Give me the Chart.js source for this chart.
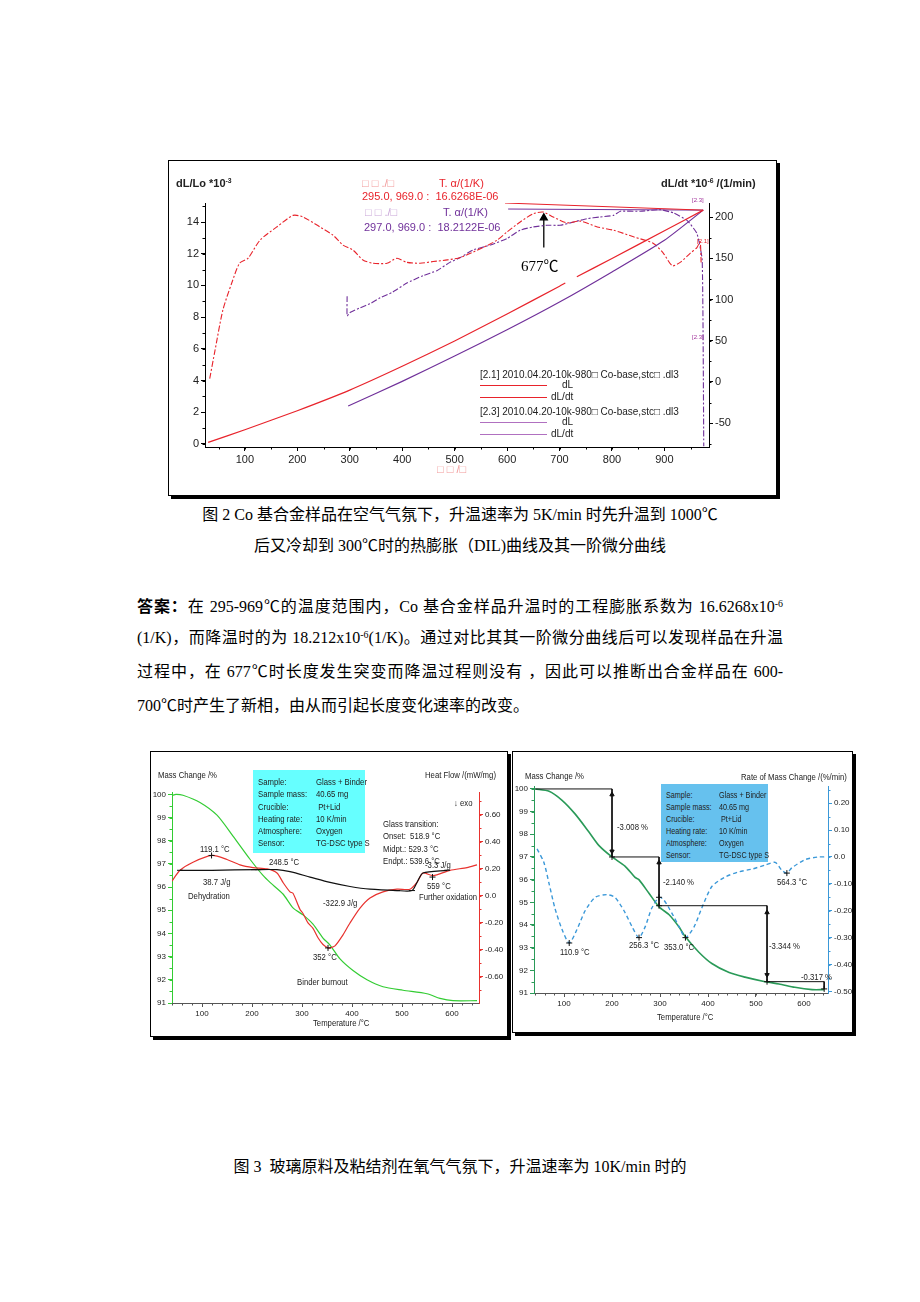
<!DOCTYPE html>
<html lang="zh">
<head>
<meta charset="utf-8">
<title>DIL and TG-DSC curves</title>
<script src="https://cdn.jsdelivr.net/npm/chart.js@4.4.1/dist/chart.umd.min.js"></script>
<style>
  body { margin: 0; width: 920px; height: 1302px; background: #fff; position: relative; overflow: hidden; }
  .a { position: absolute; white-space: nowrap; line-height: 1; }
  .frame { position: absolute; box-sizing: border-box; border: 1px solid #000; box-shadow: 3px 3px 0 #000; background: #fff; }
  canvas { position: absolute; }
  .doc { font-family: 'Liberation Serif', 'Noto Sans CJK SC', serif; font-size: 16px; color: #000; }
  .line { position: absolute; left: 137px; width: 646px; line-height: 1; text-align: justify; text-align-last: justify; }
  .dil { font-family: 'Liberation Sans', Arial, sans-serif; font-size: 11px; }
  .ta { font-family: 'Liberation Sans', Arial, sans-serif; font-size: 9px; color: #222; transform: scaleX(0.86); transform-origin: 0 0; }
  .ta.tight { transform: scaleX(0.8); }
  .hr { position: absolute; height: 0; }
  sup { font-size: 0.62em; vertical-align: 0.55em; line-height: 0; }
</style>
</head>
<body>

<!-- frames -->
<div class="frame" style="left:168px;top:160px;width:609px;height:336px"></div>
<div class="frame" style="left:150px;top:751px;width:358px;height:286px"></div>
<div class="frame" style="left:512px;top:751px;width:341px;height:282px"></div>

<canvas id="dil" width="605" height="332" style="left:170px;top:162px"></canvas>
<canvas id="dsc" width="352" height="280" style="left:153px;top:754px"></canvas>
<canvas id="dtg" width="337" height="276" style="left:515px;top:754px"></canvas>

<!-- Fig. 2 texts -->
<div class="a dil" style="left:176px;top:178px;font-weight:bold;color:#222">dL/Lo *10<sup>-3</sup></div>
<div class="a dil" style="left:661px;top:178px;font-weight:bold;color:#222">dL/dt *10<sup>-6</sup> /(1/min)</div>
<div class="a dil" style="left:362px;top:178px;color:#f29a9a">□ □ ./□</div>
<div class="a dil" style="left:439px;top:178px;color:#e8232b">T. α/(1/K)</div>
<div class="a dil" style="left:362px;top:191px;color:#e8232b">295.0, 969.0 :&nbsp; 16.6268E-06</div>
<div class="a dil" style="left:365px;top:207px;color:#c9a6d8">□ □ ./□</div>
<div class="a dil" style="left:443px;top:207px;color:#70309a">T. α/(1/K)</div>
<div class="a dil" style="left:364px;top:222px;color:#70309a">297.0, 969.0 :&nbsp; 18.2122E-06</div>
<div class="a doc" style="left:521px;top:259px;font-size:15px">677℃</div>
<div class="a dil" style="left:692px;top:197px;font-size:6px;color:#a0309a">[2.3]</div>
<div class="a dil" style="left:697px;top:238px;font-size:6px;color:#e8232b">[2.1]</div>
<div class="a dil" style="left:692px;top:334px;font-size:6px;color:#a0309a">[2.3]</div>
<div class="a dil" style="left:437px;top:464px;color:#f29a9a">□ □ /□</div>

<div class="a dil" style="left:480px;top:370px;font-size:10px;color:#222">[2.1] 2010.04.20-10k-980□ Co-base,stc□ .dl3</div>
<div class="hr" style="left:480px;top:385px;width:67px;border-top:1px solid #e8232b"></div>
<div class="a dil" style="left:562px;top:380px;font-size:10px;color:#222">dL</div>
<div class="hr" style="left:480px;top:397px;width:67px;border-top:1px solid #e8232b"></div>
<div class="a dil" style="left:551px;top:392px;font-size:10px;color:#222">dL/dt</div>
<div class="a dil" style="left:480px;top:407px;font-size:10px;color:#222">[2.3] 2010.04.20-10k-980□ Co-base,stc□ .dl3</div>
<div class="hr" style="left:480px;top:422px;width:67px;border-top:1px solid #b070c0"></div>
<div class="a dil" style="left:562px;top:417px;font-size:10px;color:#222">dL</div>
<div class="hr" style="left:480px;top:434px;width:67px;border-top:1px solid #b070c0"></div>
<div class="a dil" style="left:551px;top:429px;font-size:10px;color:#222">dL/dt</div>

<!-- document text -->
<div class="a doc" style="left:0;width:920px;text-align:center;top:507px">图 2 Co 基合金样品在空气气氛下，升温速率为 5K/min 时先升温到 1000℃</div>
<div class="a doc" style="left:0;width:920px;text-align:center;top:538px">后又冷却到 300℃时的热膨胀（DIL)曲线及其一阶微分曲线</div>

<div class="line doc" style="top:597px"><b style="font-family:'Noto Sans CJK SC'">答案：</b>在 295-969℃的温度范围内，Co 基合金样品升温时的工程膨胀系数为 16.6268x10<sup>-6</sup></div>
<div class="line doc" style="top:630px">(1/K)，而降温时的为 18.212x10<sup>-6</sup>(1/K)。通过对比其其一阶微分曲线后可以发现样品在升温</div>
<div class="line doc" style="top:664px">过程中，在 677℃时长度发生突变而降温过程则没有 ，因此可以推断出合金样品在 600-</div>
<div class="a doc" style="left:137px;top:698px">700℃时产生了新相，由从而引起长度变化速率的改变。</div>

<div class="a doc" style="left:0;width:920px;text-align:center;top:1159px">图 3&nbsp; 玻璃原料及粘结剂在氧气气氛下，升温速率为 10K/min 时的</div>

<!-- Fig. 3 left texts -->
<div class="a ta" style="left:158px;top:771px">Mass Change /%</div>
<div class="a ta" style="left:425px;top:771px">Heat Flow /(mW/mg)</div>
<div class="a ta" style="left:454px;top:799px">↓ exo</div>
<div style="position:absolute;left:253px;top:770px;width:112px;height:83px;background:#66ffff"></div>
<div class="a ta" style="left:258px;top:776px;line-height:12.3px">Sample:<br>Sample mass:<br>Crucible:<br>Heating rate:<br>Atmosphere:<br>Sensor:</div>
<div class="a ta" style="left:316px;top:776px;line-height:12.3px">Glass + Binder<br>40.65 mg<br>&nbsp;Pt+Lid<br>10 K/min<br>Oxygen<br>TG-DSC type S</div>
<div class="a ta" style="left:383px;top:818px;line-height:12.3px">Glass transition:<br>Onset:&nbsp; 518.9 °C<br>Midpt.: 529.3 °C<br>Endpt.: 539.6 °C</div>
<div class="a ta" style="left:425px;top:861px">-3.3 J/g</div>
<div class="a ta" style="left:200px;top:845px">119.1 °C</div>
<div class="a ta" style="left:269px;top:858px">248.5 °C</div>
<div class="a ta" style="left:203px;top:878px">38.7 J/g</div>
<div class="a ta" style="left:427px;top:882px">559 °C</div>
<div class="a ta" style="left:188px;top:892px">Dehydration</div>
<div class="a ta" style="left:419px;top:893px">Further oxidation</div>
<div class="a ta" style="left:323px;top:899px">-322.9 J/g</div>
<div class="a ta" style="left:313px;top:953px">352 °C</div>
<div class="a ta" style="left:297px;top:978px">Binder burnout</div>
<div class="a ta" style="left:313px;top:1019px">Temperature /°C</div>

<!-- Fig. 3 right texts -->
<div class="a ta" style="left:525px;top:772px">Mass Change /%</div>
<div class="a ta" style="left:741px;top:773px">Rate of Mass Change /(%/min)</div>
<div style="position:absolute;left:661px;top:784px;width:107px;height:78px;background:#66c1ee"></div>
<div class="a ta tight" style="left:666px;top:789px;line-height:12px">Sample:<br>Sample mass:<br>Crucible:<br>Heating rate:<br>Atmosphere:<br>Sensor:</div>
<div class="a ta tight" style="left:719px;top:789px;line-height:12px">Glass + Binder<br>40.65 mg<br>&nbsp;Pt+Lid<br>10 K/min<br>Oxygen<br>TG-DSC type S</div>
<div class="a ta" style="left:617px;top:823px">-3.008 %</div>
<div class="a ta" style="left:663px;top:878px">-2.140 %</div>
<div class="a ta" style="left:777px;top:878px">564.3 °C</div>
<div class="a ta" style="left:560px;top:948px">110.9 °C</div>
<div class="a ta" style="left:629px;top:941px">256.3 °C</div>
<div class="a ta" style="left:664px;top:943px">353.0 °C</div>
<div class="a ta" style="left:769px;top:942px">-3.344 %</div>
<div class="a ta" style="left:801px;top:973px">-0.317 %</div>
<div class="a ta" style="left:657px;top:1013px">Temperature /°C</div>

<script>
// ---------- Fig. 2: DIL, temperature in °C ----------
const dilXTicks = [100, 200, 300, 400, 500, 600, 700, 800, 900];
const dilLTicks = [0, 2, 4, 6, 8, 10, 12, 14];
const dilRTicks = [-50, 0, 50, 100, 150, 200];

// dL/Lo (*1e-3), heating run [2.1] and cooling run [2.3]
const heatT = [30, 100, 200, 300, 400, 500, 600, 700, 711, 722, 733, 800, 900, 974];
const heatDL = [0.1, 0.9, 2.1, 3.4, 4.9, 6.5, 8.2, 9.95, 10.15, null, 10.55, 11.7, 13.45, 14.75];
const coolT = [297, 400, 500, 600, 700, 800, 900, 974];
const coolDL = [2.4, 3.95, 5.55, 7.2, 8.95, 10.85, 12.85, 14.75];

// dL/dt (*1e-6 /min)
const heatRateT = [33, 43, 58, 75, 90, 106, 129, 161, 192, 211, 243, 268, 287, 306, 325, 344, 371, 390, 409, 434, 459, 486, 511, 554, 581, 600, 625, 650, 669, 688, 714, 740, 772, 803, 841, 879, 898, 915, 930, 949, 962, 968, 970];
const heatRate = [4, 38, 87, 120, 144, 150, 172, 188, 202, 200, 188, 178, 166, 160, 148, 144, 144, 150, 145, 144, 146, 148, 151, 163, 172, 182, 194, 204, 206, 200, 193, 195, 188, 184, 176, 168, 156, 141, 145, 156, 163, 170, 145];
const coolRateT = [295, 295, 300, 320, 339, 358, 382, 409, 440, 466, 491, 511, 535, 568, 600, 625, 650, 676, 701, 727, 752, 777, 803, 816, 854, 892, 917, 943, 962, 972, 975];
const coolRate = [104, 80, 84, 90, 95, 102, 109, 120, 129, 135, 145, 151, 160, 166, 174, 184, 188, 190, 190, 194, 198, 200, 202, 207, 207, 209, 205, 196, 180, 148, -78];

// expansion coefficient fit lines and 677 °C marker
const heatFitT = [596, 974];
const heatFitV = [15.2, 14.75];
const coolFitT = [602, 974];
const coolFitV = [14.82, 14.75];
const mark677T = [670, 670];
const mark677V = [163, 199];

// ---------- Fig. 3 left: TG + DSC ----------
const tgXTicks = [100, 200, 300, 400, 500, 600];
const tgLTicks = [91, 92, 93, 94, 95, 96, 97, 98, 99, 100];
const dscRTicks = [-0.6, -0.4, -0.2, 0, 0.2, 0.4, 0.6];
const dscRLabels = ['-0.60', '-0.40', '-0.20', '0.0', '0.20', '0.40', '0.60'];

const tgT = [40, 48, 62, 96, 130, 162, 196, 222, 236, 262, 282, 302, 322, 342, 356, 376, 402, 430, 462, 502, 550, 576, 602, 650];
const tgMass = [99.95, 100, 99.96, 99.65, 99.1, 98.2, 97.2, 96.5, 96.2, 95.7, 95.1, 94.8, 94.4, 93.8, 93.5, 92.9, 92.4, 92.0, 91.7, 91.55, 91.4, 91.2, 91.1, 91.1];
const dscT = [40, 56, 82, 120, 150, 176, 202, 230, 250, 262, 276, 282, 296, 302, 312, 322, 332, 342, 352, 356, 366, 380, 396, 416, 436, 462, 490, 516, 530, 542, 562, 596, 630, 650];
const dscHF = [0.11, 0.19, 0.25, 0.30, 0.27, 0.23, 0.21, 0.20, 0.17, 0.10, 0.03, 0.02, -0.10, -0.13, -0.20, -0.24, -0.31, -0.36, -0.385, -0.385, -0.37, -0.30, -0.20, -0.09, -0.015, 0.03, 0.05, 0.05, 0.10, 0.17, 0.15, 0.19, 0.21, 0.23];
const baseT = [56, 120, 210, 250, 276, 316, 356, 396, 436, 490, 520, 530, 542, 590];
const baseHF = [0.19, 0.19, 0.195, 0.195, 0.18, 0.14, 0.10, 0.07, 0.05, 0.04, 0.04, 0.10, 0.17, 0.19];
const dscPeakT = [119.1, 352, 561];
const dscPeakV = [0.30, -0.385, 0.14];
const baseMarkT = [56, 204, 212, 490, 520, 590];
const baseMarkV = [0.19, 0.195, 0.195, 0.04, 0.04, 0.19];

// ---------- Fig. 3 right: TG + DTG ----------
const dtgRTicks = [-0.5, -0.4, -0.3, -0.2, -0.1, 0, 0.1, 0.2];
const dtgRLabels = ['-0.50', '-0.40', '-0.30', '-0.20', '-0.10', '0.0', '0.10', '0.20'];

const tg2T = [40, 69, 96, 123, 152, 173, 200, 227, 248, 256, 277, 298, 319, 340, 352, 381, 408, 444, 477, 519, 548, 581, 617, 642];
const tg2Mass = [100, 99.9, 99.5, 98.9, 98.1, 97.5, 97.0, 96.6, 96.1, 96.0, 95.4, 94.8, 94.45, 93.9, 93.5, 92.8, 92.3, 91.9, 91.7, 91.5, 91.4, 91.25, 91.15, 91.15];
const dtgT = [44, 58, 69, 81, 96, 111, 127, 144, 165, 189, 206, 225, 242, 256, 269, 283, 298, 308, 325, 340, 353, 371, 387, 408, 435, 465, 492, 519, 540, 554, 564, 575, 602, 629, 646];
const dtgRate = [0.03, -0.02, -0.10, -0.19, -0.27, -0.32, -0.27, -0.20, -0.15, -0.14, -0.15, -0.20, -0.26, -0.30, -0.26, -0.19, -0.15, -0.16, -0.21, -0.26, -0.30, -0.26, -0.19, -0.11, -0.075, -0.055, -0.045, -0.03, -0.02, -0.05, -0.06, -0.04, -0.01, 0.0, 0.0];
const dtgPeakT = [110.9, 256.3, 353.0, 564.3, 298];
const dtgPeakV = [-0.32, -0.30, -0.30, -0.06, -0.15];
const stepT = [40, 200, 200, 298, 298, 523, 523, 642, 642];
const stepMass = [100, 100, 97.0, 97.0, 94.85, 94.85, 91.5, 91.5, 91.18];
const stepMarkT = [200, 298, 523, 642];
const stepMarkMass = [97.0, 94.85, 91.5, 91.18];
const arrowT = [200, 200, 298, 523, 523];
const arrowMass = [99.75, 97.25, 96.75, 94.55, 91.8];

function pts(xs, ys) {
    return xs.map((x, i) => ({ x: x, y: ys[i] }));
}

function curve(xs, ys, color, axis, extra) {
    return Object.assign({
        data: pts(xs, ys),
        borderColor: color,
        backgroundColor: color,
        borderWidth: 1.2,
        yAxisID: axis,
        pointRadius: 0,
        tension: 0.25,
        spanGaps: false
    }, extra || {});
}

function marks(xs, ys, color, axis, style) {
    return {
        data: pts(xs, ys),
        showLine: false,
        yAxisID: axis,
        borderColor: color,
        backgroundColor: color,
        pointStyle: style,
        pointRadius: 3,
        pointBorderWidth: 1
    };
}

// axis with a fixed size so the plot area lands where the picture has it
function axis(pos, min, max, ticks, labels, size, color, font) {
    return {
        type: 'linear',
        position: pos,
        min: min,
        max: max,
        afterBuildTicks: s => { s.ticks = ticks.map(v => ({ value: v })); },
        afterFit: s => { if (pos === 'bottom') s.height = size; else s.width = size; },
        grid: { drawOnChartArea: false, drawTicks: true, tickLength: 4, color: color, tickColor: color },
        border: { display: true, color: color, width: 1 },
        ticks: {
            color: '#222',
            font: font,
            padding: 2,
            autoSkip: false,
            maxRotation: 0,
            callback: (v) => labels ? labels[ticks.indexOf(v)] : String(v)
        }
    };
}

// short unlabelled ticks between the labelled ones
const minorTicks = {
    id: 'minorTicks',
    afterDraw(chart, args, opts) {
        const ctx = chart.ctx;
        Object.keys(opts.steps || {}).forEach(id => {
            const s = chart.scales[id];
            const step = opts.steps[id];
            ctx.save();
            ctx.strokeStyle = s.options.border.color;
            ctx.lineWidth = 1;
            ctx.beginPath();
            for (let v = Math.ceil(s.min / step) * step; v <= s.max; v += step) {
                const p = Math.round(s.getPixelForValue(v)) + 0.5;
                if (s.position === 'bottom') {
                    ctx.moveTo(p, s.top); ctx.lineTo(p, s.top + 2.5);
                } else if (s.position === 'left') {
                    ctx.moveTo(s.right, p); ctx.lineTo(s.right - 2.5, p);
                } else {
                    ctx.moveTo(s.left, p); ctx.lineTo(s.left + 2.5, p);
                }
            }
            ctx.stroke();
            ctx.restore();
        });
    }
};

function baseOptions(padding, scales, steps) {
    return {
        responsive: false,
        animation: false,
        layout: { padding: padding },
        plugins: { legend: { display: false }, tooltip: { enabled: false }, minorTicks: { steps: steps } },
        scales: scales
    };
}

const dilFont = { family: "'Liberation Sans', Arial, sans-serif", size: 11 };
const taFont = { family: "'Liberation Sans', Arial, sans-serif", size: 8 };

const RED = '#e8232b', PURPLE = '#70309a';
const dashDot = [6, 2, 2, 2];

new Chart(document.getElementById('dil'), {
    type: 'line',
    plugins: [minorTicks],
    data: {
        datasets: [
            curve(heatT, heatDL, RED, 'yL', { tension: 0.2 }),
            curve(coolT, coolDL, PURPLE, 'yL', { tension: 0.2 }),
            curve(heatFitT, heatFitV, RED, 'yL', { tension: 0, borderWidth: 1 }),
            curve(coolFitT, coolFitV, PURPLE, 'yL', { tension: 0, borderWidth: 1 }),
            curve(heatRateT, heatRate, RED, 'yR', { borderDash: dashDot, borderWidth: 1.1 }),
            curve(coolRateT, coolRate, PURPLE, 'yR', { borderDash: dashDot, borderWidth: 1.1, tension: 0.15 }),
            curve(mark677T, mark677V, '#000', 'yR', {
                tension: 0, borderWidth: 1.3, pointStyle: 'triangle', pointRadius: [0, 4]
            })
        ]
    },
    options: baseOptions({ top: 41, left: 0, right: 26, bottom: 29 }, {
        x: axis('bottom', 24, 985, dilXTicks, null, 18, '#000', dilFont),
        yL: axis('left', -0.19, 15.2, dilLTicks, null, 35, '#000', dilFont),
        yR: axis('right', -78.8, 217, dilRTicks, null, 40, '#000', dilFont)
    }, { x: 50, yL: 1, yR: 25 })
});

new Chart(document.getElementById('dsc'), {
    type: 'line',
    plugins: [minorTicks],
    data: {
        datasets: [
            marks(dscPeakT, dscPeakV, '#111', 'yR', 'cross'),
            marks(baseMarkT, baseMarkV, '#111', 'yR', 'line'),
            curve(baseT, baseHF, '#111', 'yR', { borderWidth: 1.2 }),
            curve(dscT, dscHF, '#e8322e', 'yR', { borderWidth: 1.2 }),
            curve(tgT, tgMass, '#33cc33', 'yL', { borderWidth: 1.2 })
        ]
    },
    options: baseOptions({ top: 38, left: 0, right: 0, bottom: 17 }, {
        x: axis('bottom', 40, 654, tgXTicks, null, 14, '#555', taFont),
        yL: axis('left', 91, 100.1, tgLTicks, null, 19, '#33cc33', taFont),
        yR: axis('right', -0.793, 0.77, dscRTicks, dscRLabels, 26, '#e8322e', taFont)
    }, { x: 20, yL: 0.5, yR: 0.1 })
});

new Chart(document.getElementById('dtg'), {
    type: 'line',
    plugins: [minorTicks],
    data: {
        datasets: [
            marks(dtgPeakT, dtgPeakV, '#111', 'yR', 'cross'),
            marks(stepMarkT, stepMarkMass, '#111', 'yL', 'cross'),
            Object.assign(marks(arrowT, arrowMass, '#111', 'yL', 'triangle'), { pointRadius: 2.5, pointRotation: [0, 180, 0, 0, 180] }),
            curve(stepT, stepMass, '#111', 'yL', { tension: 0, borderWidth: 1 }),
            curve(dtgT, dtgRate, '#3a98d8', 'yR', { borderDash: [4, 3], borderWidth: 1.4 }),
            curve(tg2T, tg2Mass, '#2a9a58', 'yL', { borderWidth: 1.6 })
        ]
    },
    options: baseOptions({ top: 32, left: 0, right: 0, bottom: 23 }, {
        x: axis('bottom', 37.5, 650, tgXTicks, null, 14, '#555', taFont),
        yL: axis('left', 91, 100.13, tgLTicks, null, 19, '#2a9a58', taFont),
        yR: axis('right', -0.506, 0.264, dtgRTicks, dtgRLabels, 24, '#3a98d8', taFont)
    }, { x: 20, yL: 0.5, yR: 0.05 })
});
</script>
</body>
</html>
